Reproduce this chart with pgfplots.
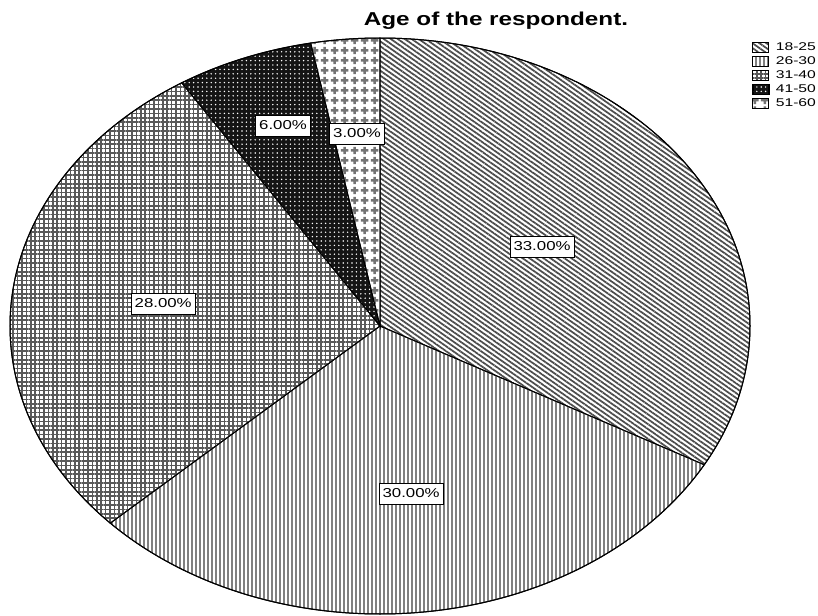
\documentclass[border=0pt]{standalone}
\usepackage{graphicx}
\usepackage{pgfplots}
\pgfplotsset{compat=1.18}
\usetikzlibrary{patterns.meta}
\usepackage{fontspec}
\setmainfont{Liberation Sans}

% plus-sign pattern for the 51-60 slice
\pgfdeclarepattern{
  name=pluses,
  type=uncolored,
  bottom left={\pgfpoint{0pt}{0pt}},
  top right={\pgfpoint{7.5pt}{7.5pt}},
  tile size={\pgfpoint{7.5pt}{7.5pt}},
  code={
    \pgfpathrectangle{\pgfpoint{0.75pt}{2.75pt}}{\pgfpoint{6pt}{2pt}}
    \pgfpathrectangle{\pgfpoint{2.75pt}{0.75pt}}{\pgfpoint{2pt}{6pt}}
    \pgfusepath{fill}
  }
}

\tikzset{
  pA/.style={pattern={Lines[angle=-35,distance=3pt,line width=1.3pt]},pattern color=black!70},
  pB/.style={pattern={Lines[angle=90,distance=3pt,line width=1.4pt]},pattern color=black!50},
  pC/.style={pattern={Hatch[angle=0,distance=3.3pt,line width=1.2pt]},pattern color=black!65},
  pD/.style={preaction={fill=black!92},pattern={Dots[distance=3.3pt,radius=0.6pt]},pattern color=white},
  pE/.style={pattern=pluses,pattern color=black!55},
  lbl/.style={draw=black,fill=white,line width=0.6pt,inner xsep=2.5pt,inner ysep=3.5pt,
              text height=7pt,text depth=1.5pt,font=\fontsize{9.7}{10}\selectfont},
}
\newcommand\wide[2]{\scalebox{#1}[1]{#2}}
\newcommand\legtxt[1]{\wide{1.4}{#1}}

% slice from cumulative percent #1 to #2, clockwise from the top
\newcommand\slice[3]{%
  \filldraw[#3,draw=black,line width=0.75pt]
    (axis cs:0,0) -- (axis cs:{cos(90-3.6*#1)},{sin(90-3.6*#1)})
    arc[start angle={90-3.6*#1}, end angle={90-3.6*#2}, x radius=277.5pt, y radius=216pt]
    -- cycle;}

\begin{document}
\begin{tikzpicture}
\useasboundingbox (0,0) rectangle (613.5pt,461.25pt);
\begin{axis}[
    at={(7.5pt,0.75pt)}, anchor=south west,
    scale only axis, width=555pt, height=432pt,
    xmin=-1, xmax=1, ymin=-1, ymax=1,
    hide axis, clip=false,
    legend image code/.code={\draw[#1,draw=black,line width=0.5pt] (0pt,-3.5pt) rectangle (12pt,3.5pt);},
    legend style={at={(rel axis cs:1.003,0.993)}, anchor=north west, draw=none, fill=none,
        inner sep=0pt, row sep=3pt, column sep=5pt,
        nodes={inner sep=0pt, text height=6pt, text depth=1pt},
        font=\fontsize{8.4}{9}\selectfont},
    legend cell align=left,
]
% age group shares (percent)
\slice{0}{33}{pA}
\slice{33}{63}{pB}
\slice{63}{91}{pC}
\slice{91}{97}{pD}
\slice{97}{100}{pE}
\draw[line width=0.75pt] (axis cs:0,0) ellipse[x radius=277.5pt, y radius=216pt];

\addlegendimage{pA}\addlegendentry{\legtxt{18-25}}
\addlegendimage{pB}\addlegendentry{\legtxt{26-30}}
\addlegendimage{pC}\addlegendentry{\legtxt{31-40}}
\addlegendimage{pD}\addlegendentry{\legtxt{41-50}}
\addlegendimage{pE}\addlegendentry{\legtxt{51-60}}

\node[lbl] at (axis cs:0.438,0.274) {\wide{1.3}{33.00\%}};
\node[lbl] at (axis cs:0.084,-0.583) {\wide{1.3}{30.00\%}};
\node[lbl] at (axis cs:-0.586,0.076) {\wide{1.3}{28.00\%}};
\node[lbl] at (axis cs:-0.262,0.694) {\wide{1.3}{6.00\%}};
\node[lbl] at (axis cs:-0.062,0.667) {\wide{1.3}{3.00\%}};
\end{axis}
\node[anchor=base, font=\bfseries\fontsize{14}{16}\selectfont] at (372pt,442pt) {\wide{1.3}{Age of the respondent.}};
\end{tikzpicture}
\end{document}
